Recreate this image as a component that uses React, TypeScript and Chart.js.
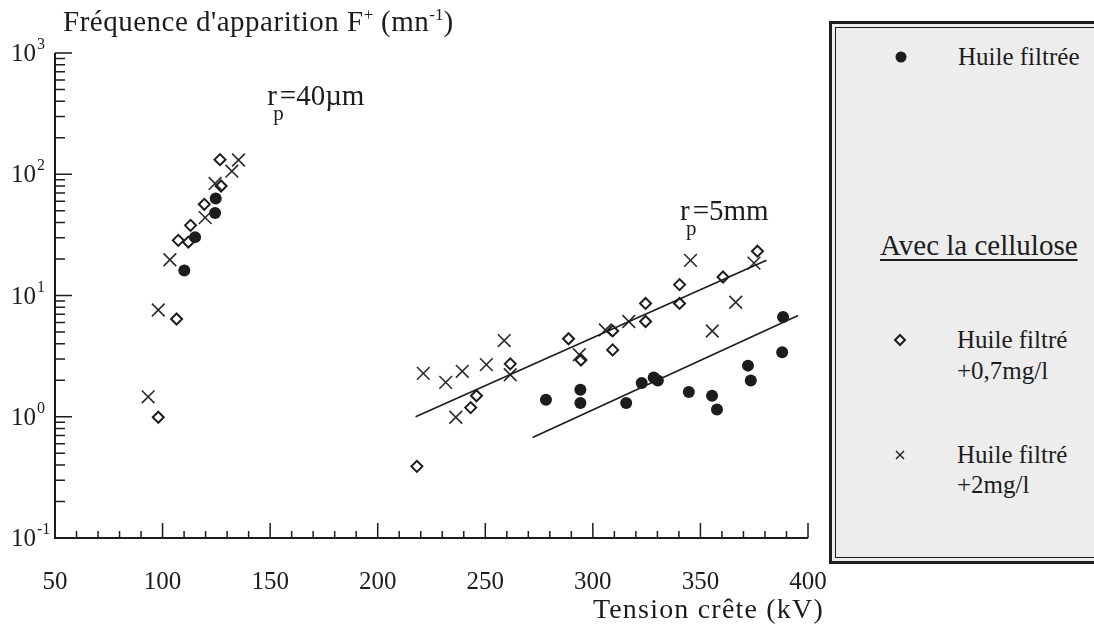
import React, { useEffect, useRef } from "react";
import { Chart, registerables } from "chart.js";

Chart.register(...registerables);

// ---------- data (kV, frequency per minute) ----------
const filtreeX = [110.1, 115.1, 124.4, 124.7, 278.2, 294.2, 294.2, 315.5, 322.7, 328.3, 330.2, 344.6, 355.4, 357.7, 372.1, 373.4, 388.4, 388.0];
const filtreeY = [16.1, 30.3, 47.9, 63, 1.38, 1.67, 1.3, 1.3, 1.9, 2.11, 1.99, 1.6, 1.49, 1.15, 2.64, 1.99, 6.64, 3.4];

const cell07X = [98.0, 106.5, 107.3, 112.0, 113.0, 119.4, 127.2, 126.7, 218.2, 243.2, 245.9, 261.6, 288.7, 294.5, 309.2, 309.2, 324.5, 324.5, 340.3, 340.3, 360.5, 376.5];
const cell07Y = [0.99, 6.4, 28.5, 27.6, 37.9, 56.5, 80, 132, 0.39, 1.19, 1.49, 2.73, 4.4, 2.94, 5.1, 3.56, 6.1, 8.6, 8.6, 12.3, 14.2, 23.2];

const cell2X = [93.3, 98.0, 103.4, 119.8, 124.4, 132.2, 135.3, 221.2, 231.6, 236.3, 239.3, 250.5, 258.8, 261.6, 293.7, 305.8, 316.7, 345.4, 355.5, 366.4, 374.9];
const cell2Y = [1.46, 7.6, 19.7, 43.9, 84, 106, 131, 2.28, 1.92, 0.99, 2.37, 2.69, 4.25, 2.22, 3.25, 5.2, 6.1, 19.5, 5.1, 8.8, 18.5];

const fitUpperX = [217.6, 380.7];
const fitUpperY = [1.0, 19.5];
const fitLowerX = [272.0, 395.4];
const fitLowerY = [0.675, 6.84];

const xTicks = [50, 100, 150, 200, 250, 300, 350, 400];
const yExponents = [-1, 0, 1, 2, 3];

const X_MIN = 50;
const X_MAX = 400;
const Y_MIN = 0.1;
const Y_MAX = 1000;

const INK = "#1c1c1c";
const SERIF = '"Liberation Serif", "Times New Roman", serif';

const toPts = (xs: number[], ys: number[]) => xs.map((x, i) => ({ x, y: ys[i] }));

type Run = { t: string; size: number; dy: number };

function drawRuns(ctx: CanvasRenderingContext2D, x: number, y: number, runs: Run[], spacing = 0) {
  let cx = x;
  for (const r of runs) {
    ctx.font = `${r.size}px ${SERIF}`;
    (ctx as any).letterSpacing = r.size > 20 ? `${spacing}px` : "0px";
    ctx.fillText(r.t, cx, y + r.dy);
    cx += ctx.measureText(r.t).width;
  }
  (ctx as any).letterSpacing = "0px";
}

const paperPlugin = {
  id: "paperAxes",
  afterDatasetsDraw(chart: any) {
    const ctx: CanvasRenderingContext2D = chart.ctx;
    const xs = chart.scales.x;
    const ys = chart.scales.y;
    const x0 = xs.getPixelForValue(X_MIN);
    const x1 = xs.getPixelForValue(X_MAX);
    const y0 = ys.getPixelForValue(Y_MIN);
    const y1 = ys.getPixelForValue(Y_MAX);
    ctx.save();
    ctx.strokeStyle = INK;
    ctx.fillStyle = INK;
    ctx.lineCap = "butt";

    // axis lines
    ctx.lineWidth = 2;
    ctx.beginPath();
    ctx.moveTo(x0, y1);
    ctx.lineTo(x0, y0);
    ctx.lineTo(x1, y0);
    ctx.stroke();

    // ticks (inward)
    ctx.lineWidth = 1.5;
    ctx.beginPath();
    for (let v = X_MIN + 10; v <= X_MAX; v += 10) {
      const p = xs.getPixelForValue(v);
      const len = v % 50 === 0 ? 15 : 7;
      ctx.moveTo(p, y0);
      ctx.lineTo(p, y0 - len);
    }
    for (let e = -1; e < 3; e++) {
      for (let m = 1; m <= 9; m++) {
        if (e === -1 && m === 1) continue;
        const p = ys.getPixelForValue(m * Math.pow(10, e));
        ctx.moveTo(x0, p);
        ctx.lineTo(x0 + (m === 1 ? 17 : 10), p);
      }
    }
    const pTop = ys.getPixelForValue(Y_MAX);
    ctx.moveTo(x0, pTop);
    ctx.lineTo(x0 + 17, pTop);
    ctx.stroke();

    // y tick labels 10^n
    ctx.textBaseline = "alphabetic";
    for (const e of yExponents) {
      const p = ys.getPixelForValue(Math.pow(10, e));
      ctx.font = `25px ${SERIF}`;
      ctx.textAlign = "right";
      ctx.fillText("10", x0 - 19, p + 8);
      ctx.font = `16px ${SERIF}`;
      ctx.textAlign = "left";
      ctx.fillText(String(e), x0 - 18, p - 4);
    }

    // x tick labels
    ctx.font = `25px ${SERIF}`;
    ctx.textAlign = "center";
    for (const v of xTicks) {
      ctx.fillText(String(v), xs.getPixelForValue(v), y0 + 51);
    }

    // x axis title
    ctx.textAlign = "right";
    ctx.font = `28px ${SERIF}`;
    (ctx as any).letterSpacing = "1.2px";
    ctx.fillText("Tension crête (kV)", x1 + 16, y0 + 80);
    (ctx as any).letterSpacing = "0px";

    // y axis title
    ctx.textAlign = "left";
    drawRuns(
      ctx,
      x0 + 8,
      y1 - 22,
      [
        { t: "Fréquence d'apparition F", size: 29, dy: 0 },
        { t: "+", size: 17, dy: -11 },
        { t: " (mn", size: 29, dy: 0 },
        { t: "-1", size: 17, dy: -11 },
        { t: ")", size: 29, dy: 0 },
      ],
      0.5
    );

    // annotations r_p
    const annot = (kv: number, val: number, rest: string) => {
      const ax = xs.getPixelForValue(kv);
      const ay = ys.getPixelForValue(val);
      ctx.textAlign = "left";
      ctx.font = `29px ${SERIF}`;
      ctx.fillText("r", ax, ay);
      const rw = ctx.measureText("r").width;
      ctx.font = `21px ${SERIF}`;
      ctx.fillText("p", ax + 6, ay + 15);
      ctx.font = `29px ${SERIF}`;
      ctx.fillText(rest, ax + rw + 3, ay);
    };
    annot(148.6, 370, "=40µm");
    annot(340.5, 41.7, "=5mm");

    ctx.restore();
  },
};

export default function App() {
  const canvasRef = useRef<HTMLCanvasElement | null>(null);

  useEffect(() => {
    if (!canvasRef.current) return;
    const chart = new Chart(canvasRef.current, {
      type: "scatter",
      data: {
        datasets: [
          {
            label: "fit 1",
            data: toPts(fitUpperX, fitUpperY),
            showLine: true,
            borderColor: INK,
            borderWidth: 1.6,
            pointRadius: 0,
            fill: false,
          },
          {
            label: "fit 2",
            data: toPts(fitLowerX, fitLowerY),
            showLine: true,
            borderColor: INK,
            borderWidth: 1.6,
            pointRadius: 0,
            fill: false,
          },
          {
            label: "Huile filtrée",
            data: toPts(filtreeX, filtreeY),
            pointStyle: "circle",
            pointRadius: 6,
            pointBackgroundColor: INK,
            pointBorderColor: INK,
            pointBorderWidth: 0,
          },
          {
            label: "Huile filtré +0,7mg/l",
            data: toPts(cell07X, cell07Y),
            pointStyle: "rectRot",
            pointRadius: 5.5,
            pointBackgroundColor: "rgba(255,255,255,0)",
            pointBorderColor: INK,
            pointBorderWidth: 2,
          },
          {
            label: "Huile filtré +2mg/l",
            data: toPts(cell2X, cell2Y),
            pointStyle: "crossRot",
            pointRadius: 9,
            pointBorderColor: "#2a2a2a",
            pointBorderWidth: 1.6,
          },
        ] as any,
      },
      options: {
        animation: false,
        responsive: false,
        events: [],
        clip: false as any,
        layout: { padding: { left: 55, top: 53, right: 286, bottom: 89 } },
        plugins: { legend: { display: false }, tooltip: { enabled: false } },
        scales: {
          x: { type: "linear", min: X_MIN, max: X_MAX, display: false },
          y: { type: "logarithmic", min: Y_MIN, max: Y_MAX, display: false },
        },
      },
      plugins: [paperPlugin as any],
    });
    return () => chart.destroy();
  }, []);

  const txt: React.CSSProperties = {
    position: "absolute",
    fontFamily: SERIF,
    fontSize: 25,
    color: INK,
    lineHeight: "30px",
    whiteSpace: "nowrap",
  };

  return (
    <div style={{ position: "fixed", left: 0, top: 0, width: 1094, height: 627, background: "#fff", overflow: "hidden" }}>
      <canvas ref={canvasRef} width={1094} height={627} style={{ position: "absolute", left: 0, top: 0, display: "block" }} />
      {/* legend box */}
      <div
        style={{
          position: "absolute",
          left: 829,
          top: 21,
          width: 280,
          height: 543,
          boxSizing: "border-box",
          border: `3px solid ${INK}`,
          padding: 3,
          background: "#ededed",
        }}
      >
        <div style={{ width: "100%", height: "100%", boxSizing: "border-box", border: `1.5px solid ${INK}` }} />
      </div>
      <svg width={1094} height={627} style={{ position: "absolute", left: 0, top: 0 }}>
        <circle cx={901} cy={57} r={5.5} fill={INK} />
        <path d="M900 335 L905 340 L900 345 L895 340 Z" fill="none" stroke={INK} strokeWidth={2} />
        <path d="M896 451 L904 459 M904 451 L896 459" stroke={INK} strokeWidth={1.4} />
      </svg>
      <div style={{ ...txt, left: 958, top: 42 }}>Huile filtrée</div>
      <div style={{ ...txt, left: 880, top: 228, fontSize: 29, lineHeight: "34px", textDecoration: "underline", textDecorationThickness: 2, textUnderlineOffset: 4 }}>
        Avec la cellulose
      </div>
      <div style={{ ...txt, left: 957, top: 325 }}>Huile filtré</div>
      <div style={{ ...txt, left: 957, top: 356 }}>+0,7mg/l</div>
      <div style={{ ...txt, left: 957, top: 440 }}>Huile filtré</div>
      <div style={{ ...txt, left: 957, top: 470 }}>+2mg/l</div>
    </div>
  );
}
